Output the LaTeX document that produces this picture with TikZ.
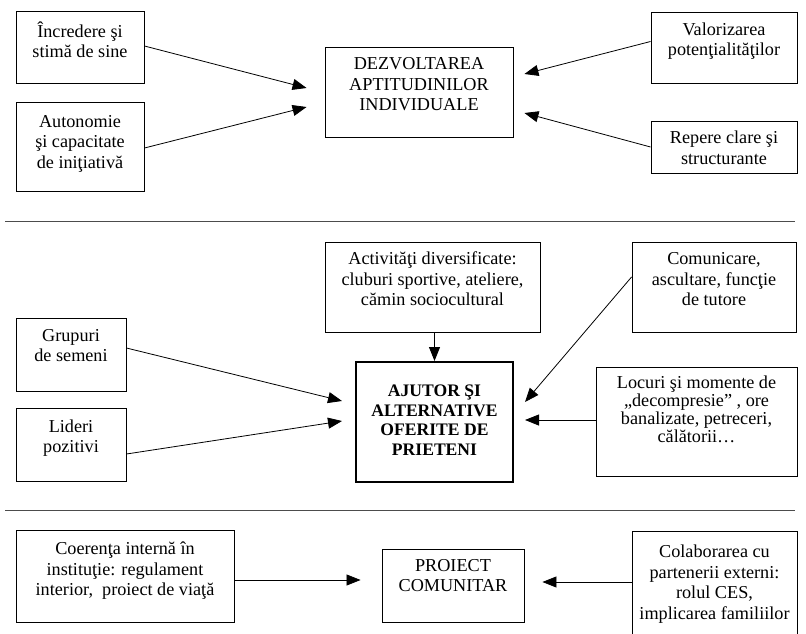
\documentclass[tikz,border=0pt]{standalone}
\usepackage{fontspec}
\setmainfont{Liberation Serif}
\usetikzlibrary{arrows.meta}
\newcommand\lns[2]{\raisebox{#1}[\height][\depth]{\begin{tabular}{@{}c@{}}#2\end{tabular}}}
\begin{document}
\begin{tikzpicture}[x=1pt,y=-1pt,
  box/.style={draw=black, line width=0.9pt, inner sep=0pt, font=\fontsize{18.2}{20.5}\selectfont},
  thickbox/.style={box, line width=2pt, font=\bfseries\fontsize{17.6}{19.5}\selectfont},
  conn/.style={line width=0.8pt, -{Triangle[length=14pt,width=11pt]}},
  sep/.style={draw=black!70, line width=1pt}]
\useasboundingbox (0,0) rectangle (806,634);
\clip (0,0) rectangle (806,634);
\fill[white] (0,0) rectangle (806,634);

% ---- top section
\node[box, minimum width=128pt, minimum height=72pt] (inc) at (80,47) {\lns{4pt}{Încredere şi\\stimă de sine}};
\node[box, minimum width=128pt, minimum height=89pt] (aut) at (80,146.5) {\lns{3pt}{Autonomie\\şi capacitate\\de iniţiativă}};
\node[box, minimum width=188pt, minimum height=90pt] (dez) at (419,92) {\lns{6pt}{DEZVOLTAREA\\APTITUDINILOR\\INDIVIDUALE}};
\node[box, minimum width=146pt, minimum height=71pt] (val) at (724,47.5) {\lns{6pt}{Valorizarea\\potenţialităţilor}};
\node[box, minimum width=146pt, minimum height=52pt] (rep) at (724,147) {\lns{-3pt}{Repere clare şi\\structurante}};

\draw[conn] ([yshift=1pt]inc.east) -- ([xshift=-18pt,yshift=4pt]dez.west);
\draw[conn] ([yshift=-1.5pt]aut.east) -- ([xshift=-18pt,yshift=-15pt]dez.west);
\draw[conn] ([yshift=6pt]val.west) -- ([xshift=11pt,yshift=18pt]dez.east);
\draw[conn] (rep.west) -- ([xshift=11pt,yshift=-21pt]dez.east);

\draw[sep] (5,221) -- (795,221);

% ---- middle section
\node[box, minimum width=215pt, minimum height=90pt] (act) at (432.5,287) {\lns{6pt}{Activităţi diversificate:\\cluburi sportive, ateliere,\\cămin sociocultural}};
\node[box, minimum width=164pt, minimum height=90pt] (com) at (714,287) {\lns{6pt}{Comunicare,\\ascultare, funcţie\\de tutore}};
\node[box, minimum width=110pt, minimum height=73pt] (gru) at (71,354.5) {\lns{7pt}{Grupuri\\de semeni}};
\node[box, minimum width=110pt, minimum height=73pt] (lid) at (71,444.5) {\lns{6pt}{Lideri\\pozitivi}};
\node[thickbox, minimum width=157pt, minimum height=120pt] (aju) at (434.5,422) {\lns{0pt}{AJUTOR ŞI\\ALTERNATIVE\\OFERITE DE\\PRIETENI}};
\node[box, minimum width=201pt, minimum height=109pt, font=\fontsize{18.2}{18}\selectfont] (loc) at (696.5,421.5) {\lns{10pt}{Locuri şi momente de\\„decompresie” , ore\\banalizate, petreceri,\\călătorii…}};

\draw[conn] ([yshift=6.5pt]gru.east) -- ([xshift=-13pt,yshift=21pt]aju.west);
\draw[conn] ([yshift=-9.5pt]lid.east) -- ([xshift=-13pt,yshift=1pt]aju.west);
\draw[conn] (act.south -| aju.north) -- (aju.north);
\draw[conn] ([yshift=10pt]com.west) -- ([xshift=11pt,yshift=20pt]aju.east);
\draw[conn] ([yshift=1.5pt]loc.west) -- ([xshift=11pt,yshift=2pt]aju.east);

\draw[sep] (5,510) -- (795,510);

% ---- bottom section
\node[box, minimum width=218pt, minimum height=92pt] (coe) at (125,576) {\lns{5pt}{Coerenţa internă în\\instituţie: regulament\\interior,~ proiect de viaţă}};
\node[box, minimum width=142pt, minimum height=73pt] (pro) at (453,585.5) {\lns{8pt}{PROIECT\\COMUNITAR}};
\node[box, minimum width=165pt, minimum height=109pt] (col) at (714.5,585.5) {\lns{1pt}{Colaborarea cu\\partenerii externi:\\rolul CES,\\implicarea familiilor}};

\draw[conn] ([yshift=-4pt]coe.east) -- ([xshift=-21pt,yshift=5.5pt]pro.west);
\draw[conn] ([yshift=3.5pt]col.west) -- ([xshift=18pt,yshift=3.5pt]pro.east);
\end{tikzpicture}
\end{document}
